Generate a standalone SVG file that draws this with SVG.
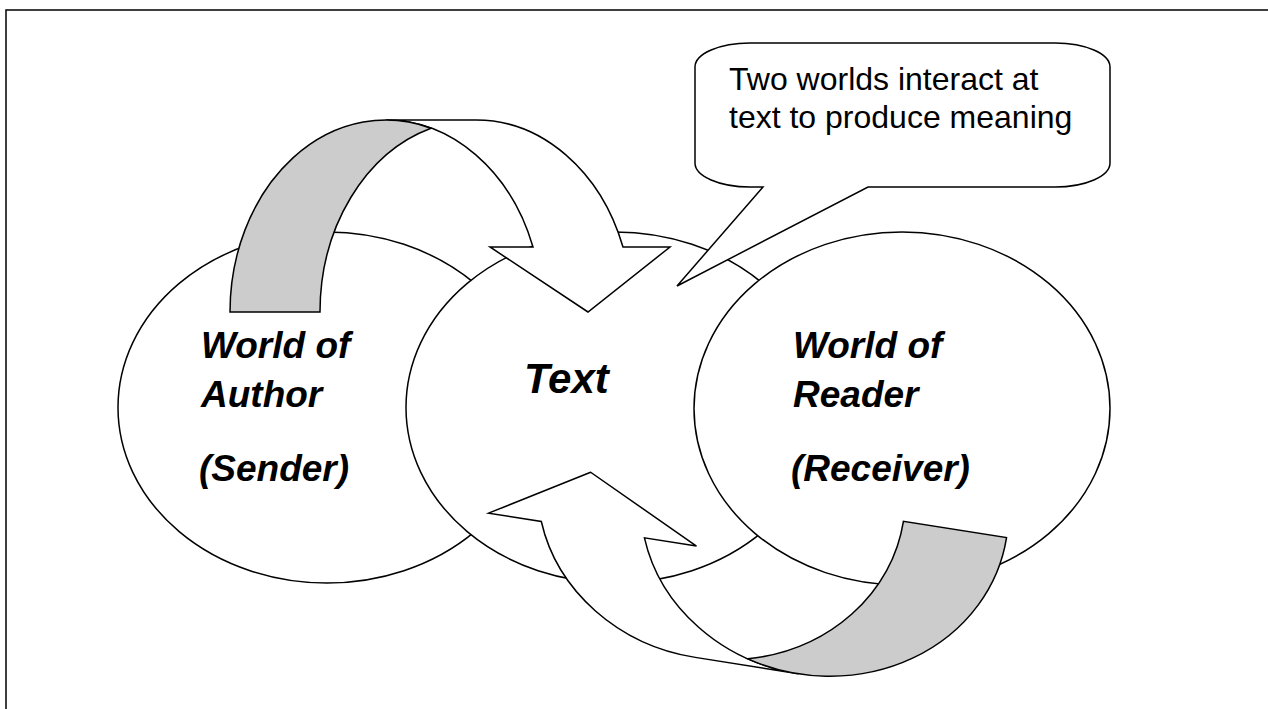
<svg xmlns="http://www.w3.org/2000/svg" width="1268" height="709" viewBox="0 0 1268 709">
<defs>
<style>
.ln{fill:none;stroke:#000;stroke-width:1.5}
.nd{fill:#fff;stroke:#000;stroke-width:1.5}
.wh{fill:#fff;stroke:#000;stroke-width:1.5;stroke-linejoin:miter}
.sh{fill:#cccccc;stroke:#000;stroke-width:1.5;stroke-linejoin:miter}
.lbl{font-family:"Liberation Sans",Arial,sans-serif;font-weight:bold;font-style:italic;font-size:37px;fill:#000}
.cl{font-family:"Liberation Sans",Arial,sans-serif;font-size:32px;fill:#000}
</style>
</defs>
<rect width="1268" height="709" fill="#fff"/>
<path id="frame" class="ln" d="M6,720 L6,10 L1280,10"/>

<g id="node-author">
<ellipse class="nd" cx="327" cy="407.5" rx="209" ry="175.5"/>
</g>
<g id="node-text">
<ellipse class="nd" cx="615" cy="407.5" rx="209" ry="175.5"/>
</g>
<g id="node-reader">
<ellipse class="nd" cx="902" cy="408.5" rx="208" ry="176.5"/>
</g>

<g id="connectors">
<g id="arrow-author-to-text">
<path class="wh" d="M588,312 L490,247 L533,247 A156 192 0 0 0 386,120 L476,120 A156 192 0 0 1 623,247 L670,247 Z"/>
<path class="sh" d="M431,128.2 A156 192 0 0 0 320,312 L230,312 A156 192 0 0 1 431,128.2 Z"/>
</g>
<g id="arrow-reader-to-text" transform="translate(750,540) rotate(9)">
<path class="wh" d="M-168,-42 L-262.4,14.4 L-209,14.4 A184.3 167 0 0 0 -35.7,124.5 L68.7,124.5 A184.3 167 0 0 1 -104.6,14.4 L-51.9,14.4 Z"/>
<path class="sh" d="M16.5,117.7 A184.3 167 0 0 0 148.6,-42.5 L253,-42.5 A184.3 167 0 0 1 16.5,117.7 Z"/>
</g>
</g>

<g id="callout">
<path class="wh" d="M750,43 L1055,43 A55 24 0 0 1 1110,67 L1110,163 A55 24 0 0 1 1055,187 L868,187 L677,286 L763,187 L750,187 A55 24 0 0 1 695,163 L695,67 A55 24 0 0 1 750,43 Z"/>
<text class="cl" x="729" y="89.5">Two worlds interact at</text>
<text class="cl" x="729" y="128">text to produce meaning</text>
</g>

<g id="labels">
<text class="lbl" x="201" y="358">World of</text>
<text class="lbl" x="201" y="407">Author</text>
<text class="lbl" x="199" y="481">(Sender)</text>
<text class="lbl" x="524" y="393" style="font-size:42px">Text</text>
<text class="lbl" x="793" y="358">World of</text>
<text class="lbl" x="793" y="407">Reader</text>
<text class="lbl" x="791" y="481">(Receiver)</text>
</g>
</svg>
